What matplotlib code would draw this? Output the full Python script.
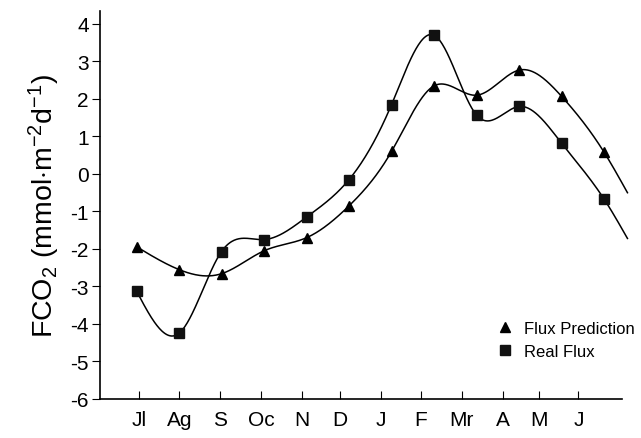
import matplotlib
matplotlib.use('Agg')
import matplotlib.pyplot as plt
import numpy as np

months = ["Jl", "Ag", "S", "Oc", "N", "D", "J", "F", "Mr", "A", "M", "J"]
flux_pred = [-1.94, -2.55, -2.66, -2.05, -1.70, -0.85, 0.60, 2.35, 2.10, 2.77, 2.07, 0.58]
flux_real = [-3.12, -4.25, -2.07, -1.75, -1.15, -0.15, 1.85, 3.70, 1.57, 1.80, 0.82, -0.67]
# where each curve stops, a bit past the last month
pred_tail = -0.50
real_tail = -1.72


def natural_spline(x, y, xs):
  x = np.asarray(x, float)
  y = np.asarray(y, float)
  n = len(x)
  h = np.diff(x)
  A = np.zeros((n, n))
  r = np.zeros(n)
  A[0, 0] = 1
  A[-1, -1] = 1
  for i in range(1, n - 1):
    A[i, i - 1] = h[i - 1]
    A[i, i] = 2 * (h[i - 1] + h[i])
    A[i, i + 1] = h[i]
    r[i] = 6 * ((y[i + 1] - y[i]) / h[i] - (y[i] - y[i - 1]) / h[i - 1])
  m = np.linalg.solve(A, r)
  k = np.clip(np.searchsorted(x, xs) - 1, 0, n - 2)
  t0 = x[k + 1] - xs
  t1 = xs - x[k]
  hk = h[k]
  return (m[k] * t0**3 / (6 * hk) + m[k + 1] * t1**3 / (6 * hk)
          + (y[k] / hk - m[k] * hk / 6) * t0
          + (y[k + 1] / hk - m[k + 1] * hk / 6) * t1)


plt.rcParams['font.family'] = ['Liberation Sans', 'DejaVu Sans']
plt.rcParams['mathtext.fontset'] = 'custom'
plt.rcParams['mathtext.rm'] = 'Liberation Sans'
plt.rcParams['mathtext.it'] = 'Liberation Sans:italic'
plt.rcParams['axes.unicode_minus'] = False

fig = plt.figure(figsize=(6.41, 4.39), dpi=100)
ax = fig.add_axes([0.156, 0.089, 0.814, 0.884])

xm = np.arange(len(months))
xc = np.append(xm, 11.55)
xs = np.linspace(0, 11.55, 600)

ax.plot(xs, natural_spline(xc, flux_pred + [pred_tail], xs), color='black', lw=1.1, clip_on=False)
ax.plot(xs, natural_spline(xc, flux_real + [real_tail], xs), color='black', lw=1.1, clip_on=False)
ax.plot(xm, flux_pred, '^', color='black', ms=7, ls='none', label='Flux Prediction', clip_on=False)
ax.plot(xm, flux_real, 's', color='#111111', ms=7, ls='none', label='Real Flux', clip_on=False)

# month ticks sit a little off the data points, as in the original
tick_pos = [0.066, 1.007, 1.965, 2.929, 3.887, 4.788, 5.746, 6.694, 7.652, 8.616, 9.478, 10.395]
ax.set_xticks(tick_pos)
ax.set_xticklabels(months, fontsize=15)
ax.set_xlim(-0.859, 11.416)
ax.set_ylim(-6, 4.35)
ax.set_yticks(range(-6, 5))
ax.tick_params(axis='y', direction='out', length=6, labelsize=15, pad=2)
ax.tick_params(axis='x', direction='in', length=6, pad=8)

for s in ['top', 'right']:
  ax.spines[s].set_visible(False)
for s in ['left', 'bottom']:
  ax.spines[s].set_linewidth(1.2)

ax.set_ylabel('FCO$_2$ (mmol$\\cdot$m$^{-2}$d$^{-1}$)', fontsize=20.5, labelpad=6)

fig.legend(loc='upper left', bbox_to_anchor=(0.765, 0.285), frameon=False,
           fontsize=12, handlelength=0.8, handletextpad=0.7, labelspacing=0.45,
           borderpad=0)

plt.savefig("out.png", dpi=100)
